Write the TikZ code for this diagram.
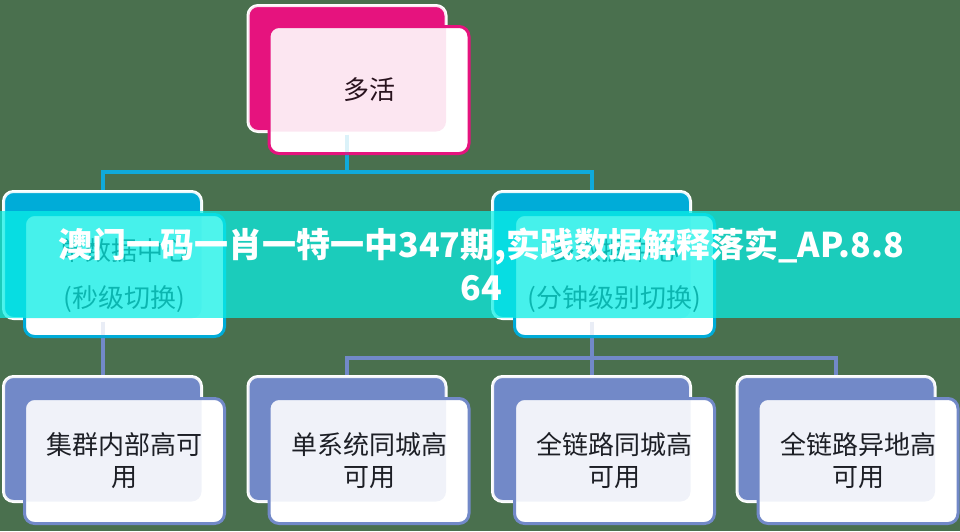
\documentclass[tikz,border=0pt]{standalone}
\usepackage{fontspec}
\newfontfamily\cjk{Noto Sans CJK SC}
\definecolor{bgc}{RGB}{74,112,78}
\definecolor{mag}{RGB}{230,19,126}
\definecolor{cyb}{RGB}{0,172,216}
\definecolor{cyl}{RGB}{16,170,218}
\definecolor{blu}{RGB}{114,137,200}
\definecolor{ban}{RGB}{10,240,230}
\definecolor{txt}{RGB}{20,20,20}
\tikzset{
  backbox/.style={draw=white, line width=3pt, rounded corners=10pt, inner sep=0pt,
    minimum width=198pt, minimum height=126pt, fill=#1},
  tintbox/.style={fill=#1, fill opacity=0.1, rounded corners=10pt, inner sep=0pt,
    minimum width=198pt, minimum height=126pt},
  frontbox/.style={draw=#1, line width=3pt, rounded corners=10pt, inner sep=0pt,
    minimum width=200pt, minimum height=125pt, fill=white,
    align=center, text=txt, font=\cjk\fontsize{26}{32}\selectfont},
  midtext/.style={font=\cjk\fontsize{26}{47}\selectfont},
  cline/.style={draw=#1, line width=4pt},
  tintline/.style={draw=#1, line width=4pt, draw opacity=0.15},
  bantext/.style={text=white, font=\cjk\bfseries\fontsize{34}{43}\selectfont, inner sep=0pt, anchor=base}
}
\begin{document}
\begin{tikzpicture}[x=1pt,y=-1pt]
\useasboundingbox (0,0) rectangle (960,531);
\fill[bgc] (0,0) rectangle (960,531);

% back boxes
\node[backbox=mag, minimum height=126pt] (topback) at (347,68.5) {};
\node[backbox=cyb, minimum height=127pt] (m1back) at (102.5,255) {};
\node[backbox=cyb, minimum height=127pt] (m2back) at (591.5,255) {};
\node[backbox=blu, minimum height=125pt] (b1back) at (102.5,439) {};
\node[backbox=blu, minimum height=125pt] (b2back) at (347,439) {};
\node[backbox=blu, minimum height=125pt] (b3back) at (591.5,439) {};
\node[backbox=blu, minimum height=125pt] (b4back) at (836,439) {};

% connectors
\draw[cline=cyl] (topback.south) -- (topback.south |- 0,172) -| (m1back.north);
\draw[cline=cyl] (topback.south |- 0,172) -| (m2back.north);
\draw[cline=blu] (m1back.south) -- (b1back.north);
\draw[cline=blu] (m2back.south) -- (m2back.south |- 0,358) -| (b2back.north);
\draw[cline=blu] (m2back.south |- 0,358) -| (b4back.north);
\draw[cline=blu] (m2back.south |- 0,358) -- (b3back.north);

% front boxes
\node[frontbox=mag, minimum height=127pt] (top) at (369,90) {多活};
\node[frontbox=cyb, minimum height=122pt, midtext] (m1) at (124.5,275.5) {单数据中心\\(秒级切换)};
\node[frontbox=cyb, minimum height=122pt, midtext] (m2) at (614.5,275.5) {多数据中心\\(分钟级别切换)};
\node[frontbox=blu] (b1) at (124.5,461) {集群内部高可\\用};
\node[frontbox=blu] (b2) at (369,461) {单系统同城高\\可用};
\node[frontbox=blu] (b3) at (614.5,461) {全链路同城高\\可用};
\node[frontbox=blu] (b4) at (858,461) {全链路异地高\\可用};

% tint of back boxes and connectors seen through the front boxes
\node[tintbox=mag, minimum height=126pt] at (347,68.5) {};
\node[tintbox=cyb, minimum height=127pt] at (102.5,255) {};
\node[tintbox=cyb, minimum height=127pt] at (591.5,255) {};
\node[tintbox=blu, minimum height=125pt] at (102.5,439) {};
\node[tintbox=blu, minimum height=125pt] at (347,439) {};
\node[tintbox=blu, minimum height=125pt] at (591.5,439) {};
\node[tintbox=blu, minimum height=125pt] at (836,439) {};
\draw[tintline=cyl] ([yshift=-1.5pt]topback.south) -- ([yshift=-1.5pt]topback.south |- top.south);
\draw[tintline=blu] ([yshift=-1.5pt]m1back.south) -- ([yshift=-1.5pt]m1back.south |- m1.south);
\draw[tintline=blu] ([yshift=-1.5pt]m2back.south) -- ([yshift=-1.5pt]m2back.south |- m2.south);

% banner
\fill[ban, fill opacity=0.72] (0,211) rectangle (960,318);
\node[bantext] (ban1) at (481,257) {澳门一码一肖一特一中347期,实践数据解释落实\_AP.8.8};
\node[bantext] (ban2) at (481,300) {64};
\end{tikzpicture}
\end{document}
